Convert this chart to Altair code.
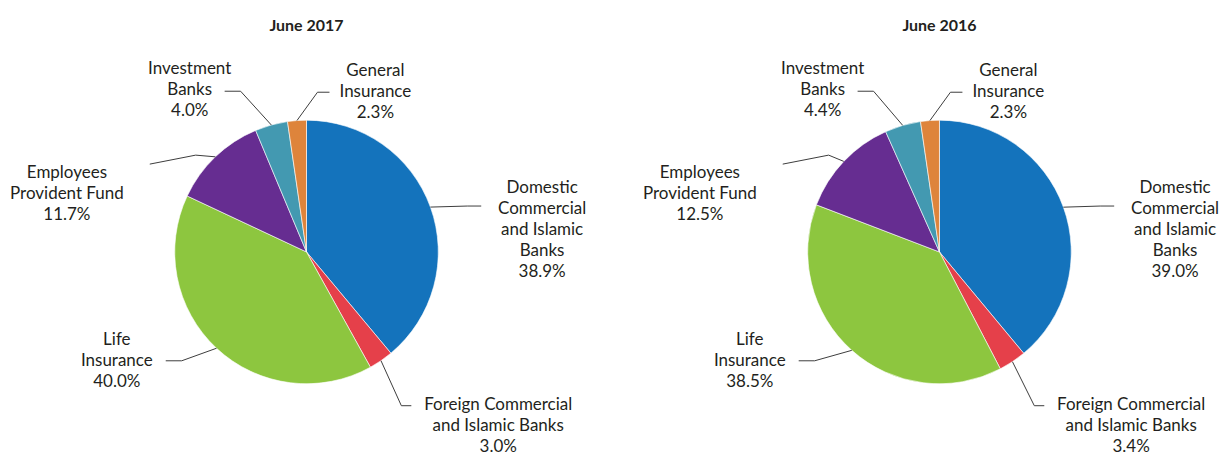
import math
import altair as alt
import pandas as pd

# ---------------- data ----------------
panels = ["June 2017", "June 2016"]
categories = [
    "Domestic Commercial and Islamic Banks",
    "Foreign Commercial and Islamic Banks",
    "Life Insurance",
    "Employees Provident Fund",
    "Investment Banks",
    "General Insurance",
]
label_lines = [
    ["Domestic", "Commercial", "and Islamic", "Banks"],
    ["Foreign Commercial", "and Islamic Banks"],
    ["Life", "Insurance"],
    ["Employees", "Provident Fund"],
    ["Investment", "Banks"],
    ["General", "Insurance"],
]
share_2017 = [38.9, 3.0, 40.0, 11.7, 4.0, 2.3]
share_2016 = [39.0, 3.4, 38.5, 12.5, 4.4, 2.3]
colors = ["#1473BC", "#E5404A", "#8DC63F", "#662D91", "#4399B1", "#DE843B"]

# ---------------- layout (annotation placement, px) ----------------
W, H = 1212, 439
R = 132
centers = [(299, 244), (933, 244)]
TEXT_COLOR = "#231F20"
LINE_COLOR = "#3C3C3C"
FONT = "Lato"
FS = 17
LH = 21
# label block: (dx of block centre, dy of first line centre) relative to pie centre
label_off = [(236, -64), (192, 153), (-190, 88), (-240, -79), (-117, -183), (69, -181)]
# leader: elbow and tail end, relative to pie centre
leader_off = [
    [(161, -46), (175, -46)],
    [(95, 154), (105, 154)],
    [(-125, 109), (-141, 109)],
    [(-111, -97), (-157, -88)],
    [(-66, -161), (-82, -161)],
    [(11, -160), (23, -160)],
]

series = [share_2017, share_2016]

arc_rows, line_rows, text_rows, title_rows = [], [], [], []
for p, (panel, vals, (cx, cy)) in enumerate(zip(panels, series, centers)):
    title_rows.append({"panel": panel, "x": cx, "y": 18})
    tot = sum(vals)
    cum = 0.0
    for i, (cat, v) in enumerate(zip(categories, vals)):
        arc_rows.append({"panel": panel, "cat": cat, "value": v, "idx": i})
        mid = (cum + v / 2) / tot * 2 * math.pi
        cum += v
        key = f"{p}-{i}"
        pts = [(cx + R * math.sin(mid), cy - R * math.cos(mid))]
        for dx, dy in leader_off[i]:
            pts.append((cx + dx, cy + dy))
        for k, (px, py) in enumerate(pts):
            line_rows.append({"key": key, "pt": k, "px": px, "py": py})
        lines = label_lines[i] + [f"{v:.1f}%"]
        lx, ly = label_off[i]
        for k, t in enumerate(lines):
            text_rows.append({"t": t, "px": cx + lx, "py": cy + ly + k * LH})

arcs_df = pd.DataFrame(arc_rows)
lines_df = pd.DataFrame(line_rows)
text_df = pd.DataFrame(text_rows)
title_df = pd.DataFrame(title_rows)

color_scale = alt.Scale(domain=categories, range=colors)

layers = []
for panel, (cx, cy) in zip(panels, centers):
    layers.append(
        alt.Chart(arcs_df[arcs_df.panel == panel])
        .mark_arc(outerRadius=R, stroke="white", strokeWidth=0.6)
        .encode(
            theta=alt.Theta("value:Q", stack="normalize"),
            color=alt.Color("cat:N", scale=color_scale, legend=None),
            order=alt.Order("idx:Q"),
            x=alt.value(cx),
            y=alt.value(cy),
        )
    )

leaders = (
    alt.Chart(lines_df)
    .mark_line(color=LINE_COLOR, strokeWidth=1)
    .encode(
        x=alt.X("px:Q", scale=None, axis=None),
        y=alt.Y("py:Q", scale=None, axis=None),
        detail="key:N",
        order="pt:Q",
    )
)

labels = (
    alt.Chart(text_df)
    .mark_text(font=FONT, fontSize=FS, color=TEXT_COLOR, align="center", baseline="middle")
    .encode(
        x=alt.X("px:Q", scale=None, axis=None),
        y=alt.Y("py:Q", scale=None, axis=None),
        text="t:N",
    )
)

titles = (
    alt.Chart(title_df)
    .mark_text(font=FONT, fontSize=16, fontWeight="bold", color=TEXT_COLOR, align="center", baseline="middle")
    .encode(
        x=alt.X("x:Q", scale=None, axis=None),
        y=alt.Y("y:Q", scale=None, axis=None),
        text="panel:N",
    )
)

chart = (
    alt.layer(*layers, leaders, labels, titles)
    .properties(width=W, height=H, padding=0)
    .configure_view(stroke=None)
)

chart.save("out.html", embed_options={"renderer": "svg", "actions": False})
